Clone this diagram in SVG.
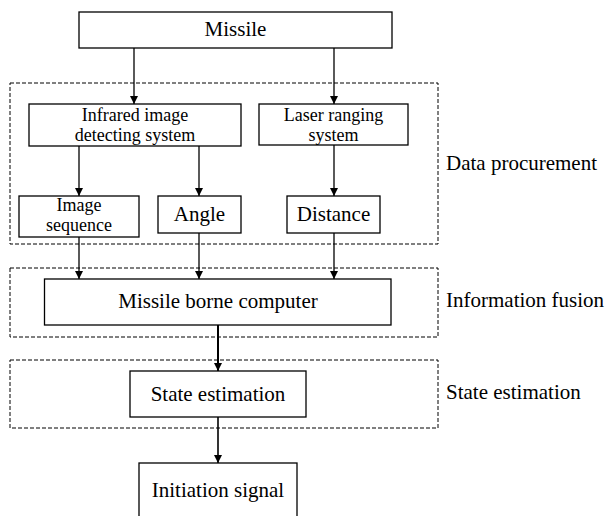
<svg xmlns="http://www.w3.org/2000/svg" width="606" height="516" viewBox="0 0 606 516">
<defs>
<marker id="ah" viewBox="0 0 8 10" refX="8" refY="5" markerWidth="8" markerHeight="10" markerUnits="userSpaceOnUse" orient="auto">
<path d="M0,1 L8,5 L0,9 Z" fill="#000"/>
</marker>
<style>
.box{fill:#fff;stroke:#000;stroke-width:1.3}
.grp{fill:none;stroke:#000;stroke-width:1;stroke-dasharray:4,2}
.t{font-family:"Liberation Serif","Times New Roman",serif;font-size:21px;fill:#000;text-anchor:middle}
.t2{font-family:"Liberation Serif","Times New Roman",serif;font-size:18px;fill:#000;text-anchor:middle}
.l{font-family:"Liberation Serif","Times New Roman",serif;font-size:21px;fill:#000}
.c{stroke:#000;stroke-width:1.3;fill:none;marker-end:url(#ah)}
</style>
</defs>
<rect width="606" height="516" fill="#fff"/>
<g id="groups">
<rect class="grp" x="10" y="83" width="428" height="161"/>
<rect class="grp" x="10" y="268" width="428" height="69"/>
<rect class="grp" x="10" y="360" width="428" height="68"/>
</g>
<g id="labels">
<text class="l" x="446" y="170">Data procurement</text>
<text class="l" x="446" y="307">Information fusion</text>
<text class="l" x="446" y="399">State estimation</text>
</g>
<g id="connectors">
<line class="c" x1="134" y1="48" x2="134" y2="104"/>
<line class="c" x1="334" y1="48" x2="334" y2="104"/>
<line class="c" x1="79" y1="146" x2="79" y2="196"/>
<line class="c" x1="199" y1="146" x2="199" y2="196"/>
<line class="c" x1="334" y1="145" x2="334" y2="196"/>
<line class="c" x1="79" y1="237" x2="79" y2="279"/>
<line class="c" x1="199" y1="233" x2="199" y2="279"/>
<line class="c" x1="334" y1="233" x2="334" y2="279"/>
<line class="c" x1="218" y1="325" x2="218" y2="371" style="stroke-width:2"/>
<line class="c" x1="218" y1="417" x2="218" y2="463" style="stroke-width:1.6"/>
</g>
<g id="missile">
<rect class="box" x="79" y="12" width="313" height="36"/>
<text class="t" x="235.5" y="36">Missile</text>
</g>
<g id="infrared">
<rect class="box" x="29" y="104" width="212" height="42"/>
<text class="t2" x="135" y="121">Infrared image</text>
<text class="t2" x="135" y="141">detecting system</text>
</g>
<g id="laser">
<rect class="box" x="259" y="104" width="149" height="41"/>
<text class="t2" x="333.5" y="121">Laser ranging</text>
<text class="t2" x="333.5" y="141">system</text>
</g>
<g id="image-sequence">
<rect class="box" x="19" y="196" width="120" height="41"/>
<text class="t2" x="79" y="211">Image</text>
<text class="t2" x="79" y="231">sequence</text>
</g>
<g id="angle">
<rect class="box" x="158" y="196" width="83" height="37"/>
<text class="t" x="199.5" y="221">Angle</text>
</g>
<g id="distance">
<rect class="box" x="287" y="196" width="93" height="37"/>
<text class="t" x="333.5" y="221">Distance</text>
</g>
<g id="computer">
<rect class="box" x="44.5" y="279" width="346.5" height="46"/>
<text class="t" x="218" y="308">Missile borne computer</text>
</g>
<g id="state">
<rect class="box" x="130" y="371" width="176" height="46"/>
<text class="t" x="218" y="400.5">State estimation</text>
</g>
<g id="initiation">
<rect class="box" x="139" y="463" width="158" height="70"/>
<text class="t" x="218" y="496.5">Initiation signal</text>
</g>
</svg>
